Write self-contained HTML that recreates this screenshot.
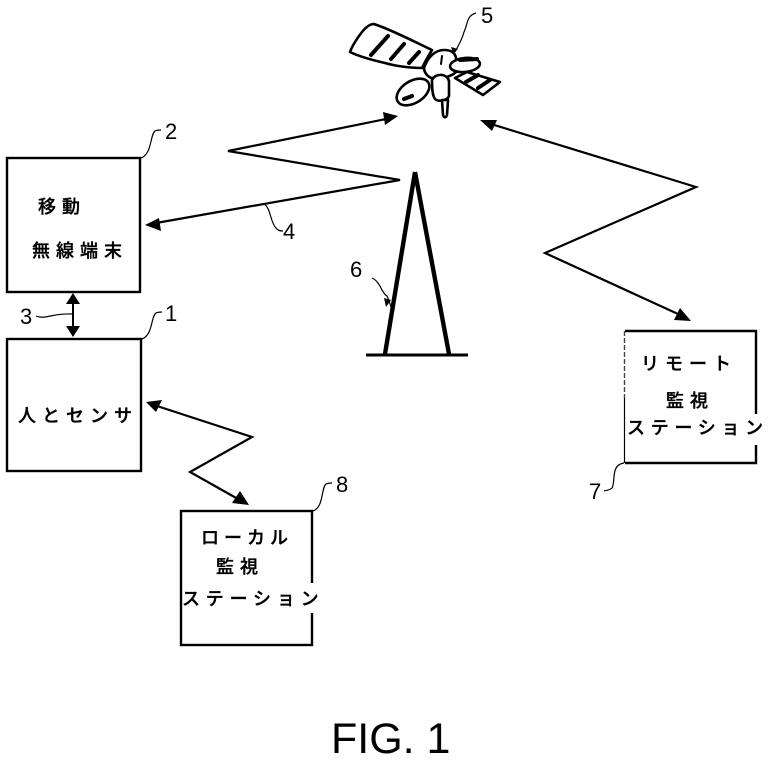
<!DOCTYPE html>
<html>
<head>
<meta charset="utf-8">
<style>
html,body{margin:0;padding:0;background:#fff;width:768px;height:765px;overflow:hidden}
svg{display:block}
text{fill:#000}
.j{font-family:"Liberation Sans","Noto Sans CJK JP",sans-serif;font-size:18px;font-weight:500;stroke:#000;stroke-width:.35px}
.n{font-family:"Liberation Sans",sans-serif;font-size:22px}
</style>
</head>
<body>
<svg width="768" height="765" viewBox="0 0 768 765" xmlns="http://www.w3.org/2000/svg">
<g fill="none" stroke="#000" stroke-width="2">
  <!-- boxes -->
  <rect x="7" y="158" width="133" height="134" stroke-width="2.4"/>
  <rect x="7" y="339" width="134" height="132" stroke-width="2.4"/>
  <rect x="181" y="511" width="131" height="134" stroke-width="2.4"/>
  <path d="M625 463H756V331H625" stroke-width="2.4"/>
  <path d="M624.5 331V398" stroke-width="1.4" stroke-dasharray="5 2" stroke="#444"/>
  <path d="M624.5 398V463" stroke-width="1.2"/>
  <!-- zigzags -->
  <path d="M386 119L228 151L400 180L156 223" stroke-width="2.2"/>
  <path d="M491 124L696 187L545 253L678 314" stroke-width="2.2"/>
  <path d="M157 406L252 437L190 472L238 499" stroke-width="2.2"/>
  <path d="M73 300V330" stroke-width="2"/>
  <!-- tower -->
  <path d="M415 172L385 354M415 172L449 354" stroke-width="4.4"/>
  <path d="M366 355H468" stroke-width="3"/>
  <!-- leaders -->
  <g stroke-width="1.2">
    <path d="M141 158C152 154 150 135 155 131C157 130 159 130 161 130"/>
    <path d="M142 339C153 335 151 316 156 313C158 312 160 312 162 312"/>
    <path d="M313 511C324 507 321 488 326 484C328 483 330 483 332 483"/>
    <path d="M624 463C610 465 616 482 612 488C610 490 608 490 604 491"/>
    <path d="M264 204C271 208 270 222 276 228C278 231 281 231 283 231"/>
    <path d="M36 316C45 320 52 313 72 314"/>
    <path d="M372 278C380 281 382 294 387 296C389 300 390 304 391 307"/>
    <path d="M476 13C466 16 468 24 464 32C462 40 458 46 455 52"/>
  </g>
</g>
<g fill="#000">
  <path d="M398 116L383 112L385 125Z"/>
  <path d="M145 225L159 218L161 231Z"/>
  <path d="M480 120L497 120L492 131Z"/>
  <path d="M691 321L680 308L674 320Z"/>
  <path d="M146 402L162 400L156 412Z"/>
  <path d="M249 505L240 491L232 503Z"/>
  <path d="M73 293L66 304H80Z"/>
  <path d="M73 337L66 326H80Z"/>
  <path d="M386 307L384 298L391 300Z"/>
  <path d="M453 53L451 47L458 49Z"/>
</g>
<!-- satellite -->
<g fill="#fff" stroke="#000" stroke-width="2.6" stroke-linejoin="round">
  <path d="M350 52C352 46 358 37 362 32C366 27 370 24 374 24C392 30 415 42 432 50C427 58 424 64 422 68C410 68 395 66 385 63C372 60 358 56 350 52Z"/>
  <path d="M424 68C428 56 436 50 444 50C450 50 455 52 456 58L456 72C450 78 440 78 431 78C427 76 424 72 424 68Z"/>
  <path d="M455 78L467 72L500 82L483 95Z"/>
  <ellipse cx="465" cy="65" rx="15" ry="7" transform="rotate(-6 465 65)"/>
  <ellipse cx="413" cy="92" rx="18" ry="11" transform="rotate(-32 413 92)"/>
  <path d="M432 80C435 73 447 73 449 81L449 96C447 101 438 102 435 99C432 95 432 86 432 80Z"/>
  <path d="M442 100H448L447 115C446 118 444 118 443 115Z"/>
</g>
<g stroke="#000" stroke-width="4" fill="none" stroke-linecap="round">
  <path d="M371 55L388 36M391 59L404 44M409 63L419 52"/>
  <path d="M466 82L478 75M478 88L490 80M460 60L477 59"/>
  <path d="M404 99L412 96"/>
  <path d="M442 56L441 64" stroke-width="2"/>
</g>
<!-- white gaps in box borders behind overflowing text -->
<rect x="309" y="583" width="6" height="30" fill="#fff"/>
<rect x="753" y="414" width="6" height="31" fill="#fff"/>
<!-- box labels -->
<g class="j">
  <text x="38" y="213" letter-spacing="6">移動</text>
  <text x="32" y="257" letter-spacing="6">無線端末</text>
  <text x="18" y="422" letter-spacing="6">人とセンサ</text>
  <text x="201" y="544" letter-spacing="5">ローカル</text>
  <text x="216" y="573" letter-spacing="6">監視</text>
  <text x="182" y="605" letter-spacing="5.8">ステーション</text>
  <text x="641" y="370" letter-spacing="6">リモート</text>
  <text x="666" y="407" letter-spacing="6">監視</text>
  <text x="627" y="434" letter-spacing="5.7">ステーション</text>
</g>
<!-- reference numbers -->
<g class="n">
  <text x="165" y="139">2</text>
  <text x="165" y="321">1</text>
  <text x="20" y="324">3</text>
  <text x="283" y="239">4</text>
  <text x="481" y="23">5</text>
  <text x="350" y="277">6</text>
  <text x="589" y="499">7</text>
  <text x="336" y="492">8</text>
</g>
<text x="331" y="753" font-family="'Liberation Sans',sans-serif" font-size="43">FIG. 1</text>
</svg>
</body>
</html>
